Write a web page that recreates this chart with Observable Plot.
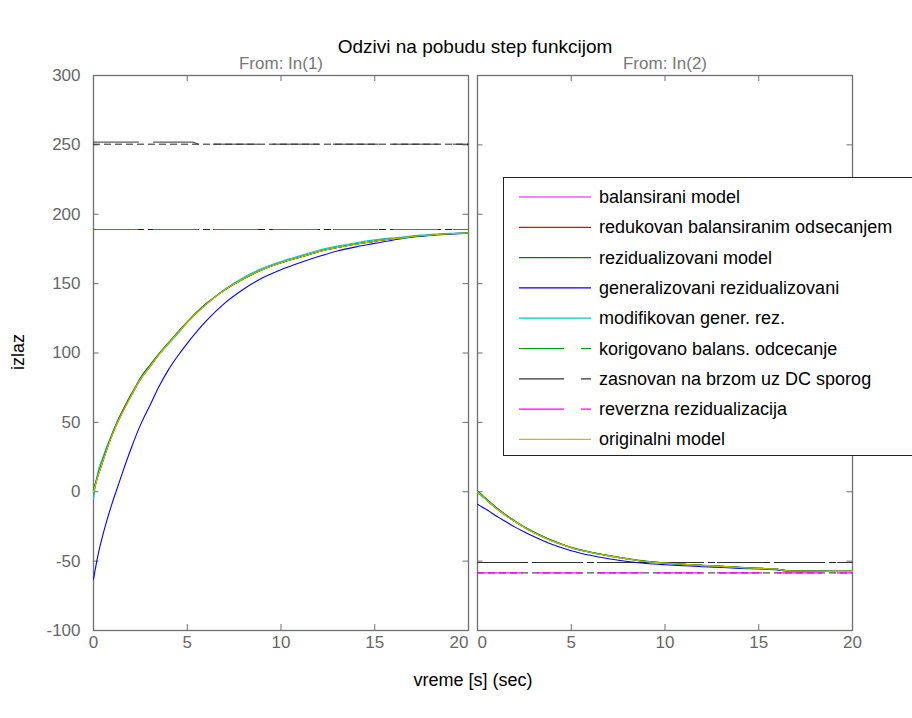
<!DOCTYPE html>
<html><head><meta charset="utf-8">
<script src="https://cdn.jsdelivr.net/npm/d3@7"></script>
<script src="https://cdn.jsdelivr.net/npm/@observablehq/plot@0.6"></script>
<style>
html,body{margin:0;padding:0;background:#fff;overflow:hidden;width:912px;height:718px;}
#wrap{position:relative;width:912px;height:718px;font-family:"Liberation Sans",Arial,Helvetica,sans-serif;overflow:hidden;}
.t{position:absolute;white-space:nowrap;line-height:20px;}
#legend{position:absolute;left:503px;top:177px;width:430px;height:279px;border:1.5px solid #222;background:#fff;box-sizing:border-box;}
#legend svg{position:absolute;left:0;top:0;}
</style></head><body><div id="wrap"></div>
<script>
// ---- data ----
const panels = ["In(1)", "In(2)"];
const xTicks = [0, 5, 10, 15, 20];
const yTicks = [-100, -50, 0, 50, 100, 150, 200, 250, 300];
const times = [0,0.25,0.5,0.75,1,1.25,1.5,2,2.5,3,3.5,4,4.5,5,6,7,8,9,10,11,12,13,14,15,16,16.5,17,18,19,20];

// From In(1)
const originalIn1   = [0,12,22,32,41,49,56,69,81,90,99,107,114.5,122,135,145.5,153.5,160,165,169,173,176,178.5,180.5,182.5,183,184,185,186,186.5];
const rezidIn1      = [1,13,23,33,42,50,57,70,82,91,99.5,107.5,115,122.5,135.5,145.5,153.5,160,165,169,173,176,178.5,180.5,182.5,183,184,185,186,186.5];
const modifIn1      = [-5,15,25,34,42,50,57,69,81,90,99,106.5,114,122,135,146,154.5,161,166,170,174,177,179.5,181.5,183,183.5,184.5,185.5,186.3,186.7];
const generalIn1    = [-63,-45,-31,-19,-8,2,12,31,48,62,76,88,98,107,123,136,146,154,160,165,169.5,173.5,176.5,179,181.5,182.5,183.5,184.8,185.6,186.3];
// From In(2)
const originalIn2   = [0,-3,-6,-9,-12,-14.5,-17,-21.5,-25.7,-29.3,-32.6,-35.5,-38,-40.3,-43.6,-46.2,-48.4,-50.3,-51.4,-52.3,-53.1,-53.8,-54.6,-55.2,-55.9,-57,-57.1,-57.3,-57.4,-57.4];
const rezidIn2      = [0.5,-2.5,-5.5,-8.5,-11.5,-14,-16.5,-21,-25.3,-29,-32.3,-35.2,-37.8,-40,-43.4,-46,-48.2,-50.1,-51.3,-52.2,-53,-53.7,-54.5,-55.1,-55.8,-56.9,-57,-57.2,-57.3,-57.3];
const modifIn2      = [-1,-3.5,-6.3,-9.2,-12,-14.6,-17,-21.6,-25.8,-29.4,-32.7,-35.6,-38.1,-40.4,-43.7,-46.3,-48.5,-50.4,-51.5,-52.4,-53.2,-53.9,-54.7,-55.3,-56,-57,-57.1,-57.3,-57.4,-57.4];
const generalIn2    = [-9,-11,-13,-15.3,-17.5,-19.5,-21.5,-25.5,-29,-32.3,-35.3,-38,-40.4,-42.5,-45.8,-48.3,-50.3,-51.7,-52.6,-53.3,-54,-54.6,-55.2,-55.7,-56.3,-57.1,-57.2,-57.4,-57.5,-57.5];

// nearly constant responses
const zasnovanTimes = [0, 5.3, 5.6, 20];
const zasnovanIn1 = [252, 252, 250.5, 250.5];
const zasnovanIn2 = [-51, -51, -51, -51];
const reverznaIn1 = 189;
const reverznaIn2 = -58.5;
const dcLevelsIn1 = [250.5, 189];
const dcLevelsIn2 = [-51, -58.5];

const seriesNames = [
  "balansirani model",
  "redukovan balansiranim odsecanjem",
  "rezidualizovani model",
  "generalizovani rezidualizovani",
  "modifikovan gener. rez.",
  "korigovano balans. odcecanje",
  "zasnovan na brzom uz DC sporog",
  "reverzna rezidualizacija",
  "originalni model"
];
const seriesColors = ["#ff00ff","#ff0000","#008000","#0000ff","#00c8c8","#00a000","#333333","#ff00ff","#c0c000"];
const seriesDashed = [false,false,false,false,false,true,true,true,false];

// ---- build rows ----
function rows(name, panel, vals, ts = times) {
  return ts.map((t, i) => ({series: name, panel, t, v: vals[i]}));
}
const curveData = [
  {name: seriesNames[0], data: [...rows(seriesNames[0], panels[0], originalIn1), ...rows(seriesNames[0], panels[1], originalIn2)]},
  {name: seriesNames[1], data: [...rows(seriesNames[1], panels[0], originalIn1), ...rows(seriesNames[1], panels[1], originalIn2)]},
  {name: seriesNames[3], data: [...rows(seriesNames[3], panels[0], generalIn1), ...rows(seriesNames[3], panels[1], generalIn2)]},
  {name: seriesNames[5], data: [...rows(seriesNames[5], panels[0], rezidIn1), ...rows(seriesNames[5], panels[1], rezidIn2)]},
  {name: seriesNames[4], data: [...rows(seriesNames[4], panels[0], modifIn1), ...rows(seriesNames[4], panels[1], modifIn2)]},
  {name: seriesNames[2], data: [...rows(seriesNames[2], panels[0], rezidIn1), ...rows(seriesNames[2], panels[1], rezidIn2)]},
  {name: seriesNames[8], data: [...rows(seriesNames[8], panels[0], originalIn1), ...rows(seriesNames[8], panels[1], originalIn2)]}
];
const zasData = [...rows(seriesNames[6], panels[0], zasnovanIn1, zasnovanTimes), ...rows(seriesNames[6], panels[1], zasnovanIn2, zasnovanTimes)];
const dcData = [...dcLevelsIn1.map(v => ({panel: panels[0], v})), ...dcLevelsIn2.map(v => ({panel: panels[1], v}))];
const revData = [{panel: panels[0], v: reverznaIn1}, {panel: panels[1], v: reverznaIn2}];

// x tick label table (per panel), built from the tick list
const xLabelData = panels.flatMap((p, pi) => xTicks.map((t, ti) => ({panel: p, t, pos: pi === 0 && ti === xTicks.length - 1 ? "end" : (pi === 1 && ti === 0 ? "start" : "middle")})));

const W = 912, H = 718, mT = 75, mB = 88, mL = 93, mR = 59;
const innerH = H - mT - mB;
const pIn = 9 / ((W - mL - mR + 9) / 2);
const bw = (W - mL - mR - 9) / 2;
const axisGray = "#6f6f6f";
const labelGray = "#666";

const colorOf = n => seriesColors[seriesNames.indexOf(n)];

const xLabelMark = anchor => Plot.text(xLabelData.filter(d => d.pos === anchor), {
  x: "t", fx: "panel", text: d => String(d.t), frameAnchor: "bottom", dy: 17,
  textAnchor: anchor, fontSize: 17, fill: labelGray
});

const marks = [
  Plot.frame({stroke: axisGray, strokeWidth: 1.3}),
  Plot.tickX(xTicks, {x: d => d, insetTop: innerH - 6, stroke: axisGray}),
  Plot.tickX(xTicks, {x: d => d, insetBottom: innerH - 6, stroke: axisGray}),
  Plot.tickY(yTicks, {y: d => d, insetRight: bw - 6, stroke: axisGray}),
  Plot.tickY(yTicks, {y: d => d, insetLeft: bw - 6, stroke: axisGray}),
  Plot.ruleY(dcData, {y: "v", fx: "panel", stroke: "#222", strokeWidth: 1, strokeDasharray: "7,4"}),
  Plot.ruleY(revData, {y: "v", fx: "panel", stroke: colorOf(seriesNames[7]), strokeWidth: 1.2, strokeDasharray: "45,15"}),
  Plot.line(zasData, {x: "t", y: "v", fx: "panel", z: "panel", stroke: colorOf(seriesNames[6]), strokeWidth: 1, strokeDasharray: "45,15"}),
  ...curveData.map(s => Plot.line(s.data, {
    x: "t", y: "v", fx: "panel", z: "panel", curve: "monotone-x",
    stroke: colorOf(s.name), strokeWidth: 1.1,
    strokeDasharray: seriesDashed[seriesNames.indexOf(s.name)] ? "45,15" : null
  })),
  Plot.axisFx({anchor: "top", label: null, tickSize: 0, tickPadding: 7, fontSize: 17, fill: "#777", tickFormat: d => "From: " + d}),
  xLabelMark("middle"), xLabelMark("end"), xLabelMark("start"),
  Plot.axisY({ticks: yTicks, tickSize: 0, tickPadding: 13, label: null, fontSize: 17, fill: labelGray, tickFormat: d => String(d)})
];

const chart = Plot.plot({
  width: W, height: H,
  marginTop: mT, marginBottom: mB, marginLeft: mL, marginRight: mR,
  fx: {domain: panels, paddingInner: pIn, paddingOuter: 0, label: null},
  x: {domain: [0, 20], axis: null},
  y: {domain: [-100, 300]},
  style: {fontFamily: '"Liberation Sans", Arial, sans-serif', background: "transparent", overflow: "visible"},
  marks
});
const wrap = document.getElementById("wrap");
wrap.appendChild(chart);
chart.style.position = "absolute"; chart.style.left = "0"; chart.style.top = "0";

function addText(txt, x, y, opts = {}) {
  const d = document.createElement("div");
  d.className = "t";
  d.textContent = txt;
  d.style.left = x + "px"; d.style.top = y + "px";
  d.style.fontSize = (opts.size || 18) + "px";
  d.style.color = opts.color || "#000";
  d.style.transform = opts.transform || "translate(-50%,-50%)";
  wrap.appendChild(d);
  return d;
}
addText("Odzivi na pobudu step funkcijom", 475, 47, {size: 19});
addText("vreme [s] (sec)", 473, 680, {size: 18});
addText("izlaz", 18, 352, {size: 18, transform: "translate(-50%,-50%) rotate(-90deg)"});

// legend
const lg = document.createElement("div");
lg.id = "legend";
wrap.appendChild(lg);
const ns = "http://www.w3.org/2000/svg";
const lsvg = document.createElementNS(ns, "svg");
lsvg.setAttribute("width", 430); lsvg.setAttribute("height", 279);
lg.appendChild(lsvg);
seriesNames.forEach((name, i) => {
  const cy = 19 + i * 30.3;
  const ln = document.createElementNS(ns, "line");
  ln.setAttribute("x1", 15); ln.setAttribute("x2", 87);
  ln.setAttribute("y1", cy); ln.setAttribute("y2", cy);
  ln.setAttribute("stroke", seriesColors[i]);
  ln.setAttribute("stroke-width", 1.2);
  if (seriesDashed[i]) ln.setAttribute("stroke-dasharray", "45,17,10");
  lsvg.appendChild(ln);
  const tx = document.createElementNS(ns, "text");
  tx.setAttribute("x", 95); tx.setAttribute("y", cy + 6);
  tx.setAttribute("font-size", 18);
  tx.setAttribute("font-family", '"Liberation Sans", Arial, sans-serif');
  tx.setAttribute("fill", "#000");
  tx.textContent = name;
  lsvg.appendChild(tx);
});
</script></body></html>
